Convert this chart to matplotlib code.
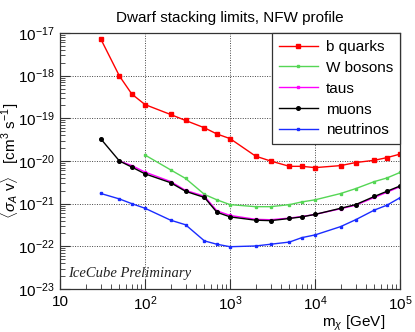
import matplotlib
matplotlib.use("Agg")
import matplotlib.pyplot as plt
from matplotlib.ticker import LogLocator, NullFormatter

plt.rcParams['font.family'] = ['Liberation Sans', 'DejaVu Sans']
plt.rcParams['mathtext.fontset'] = 'custom'
plt.rcParams['mathtext.rm'] = 'Liberation Sans'
plt.rcParams['mathtext.it'] = 'Liberation Sans:italic'

# masses [GeV]
masses = [30, 50, 70, 100, 200, 300, 500, 700, 1000, 2000, 3000, 5000, 7000,
          10000, 20000, 30000, 50000, 70000, 100000]

bquarks = [7.4e-18, 9.8e-19, 3.7e-19, 2.1e-19, 1.23e-19, 8.9e-20, 6.0e-20, 4.3e-20,
           3.35e-20, 1.3e-20, 1.0e-20, 7.5e-21, 7.5e-21, 7.0e-21, 7.8e-21, 9.2e-21,
           1.04e-20, 1.2e-20, 1.45e-20]

masses_w = masses[3:]
wbosons = [1.38e-20, 6.2e-21, 3.9e-21, 1.65e-21, 1.23e-21, 9.5e-22, 8.5e-22, 8.5e-22,
           9.5e-22, 1.1e-21, 1.23e-21, 1.73e-21, 2.25e-21, 3.3e-21, 4.0e-21, 5.4e-21]

masses_tau = masses[1:]
taus = [1.0e-20, 7.8e-21, 5.5e-21, 3.3e-21, 2.05e-21, 1.5e-21, 6.8e-22, 5.3e-22,
        4.3e-22, 4.2e-22, 4.6e-22, 5.0e-22, 5.6e-22, 7.6e-22, 9.2e-22, 1.4e-21,
        1.85e-21, 2.5e-21]

muons = [3.35e-20, 1.0e-20, 7.2e-21, 5.0e-21, 3.1e-21, 1.95e-21, 1.4e-21, 6.3e-22,
         4.9e-22, 4.1e-22, 4.0e-22, 4.5e-22, 4.9e-22, 5.6e-22, 7.8e-22, 9.5e-22,
         1.48e-21, 1.95e-21, 2.6e-21]

neutrinos = [1.74e-21, 1.29e-21, 1.0e-21, 7.8e-22, 4.1e-22, 3.2e-22, 1.34e-22, 1.12e-22,
             9.8e-23, 1.02e-22, 1.12e-22, 1.26e-22, 1.6e-22, 1.85e-22, 2.9e-22, 4.2e-22,
             7.1e-22, 9.2e-22, 1.38e-21]

fig = plt.figure(figsize=(4.15, 3.32), dpi=100)
ax = fig.add_axes([0.1446, 0.1295, 0.8194, 0.7711])

ax.plot(masses, bquarks, color='#ff0000', marker='s', ms=3.5, lw=1.0, label='b quarks')
ax.plot(masses_w, wbosons, color='#55d655', marker='s', ms=2, lw=1.0, label='W bosons')
ax.plot(masses_tau, taus, color='#ff00ff', marker='s', ms=2, lw=1.0, label='taus')
ax.plot(masses, muons, color='black', marker='o', ms=2.6, lw=1.0, label='muons')
ax.plot(masses, neutrinos, color='#1a2cff', marker='s', ms=2, lw=1.0, label='neutrinos')

ax.set_xscale('log')
ax.set_yscale('log')
ax.set_xlim(10, 1e5)
ax.set_ylim(1e-23, 1e-17)

ax.xaxis.set_minor_locator(LogLocator(base=10, subs=range(2, 10), numticks=20))
ax.yaxis.set_minor_locator(LogLocator(base=10, subs=range(2, 10), numticks=20))
ax.xaxis.set_minor_formatter(NullFormatter())
ax.yaxis.set_minor_formatter(NullFormatter())
ax.set_xticks([10, 1e2, 1e3, 1e4, 1e5])
ax.set_xticklabels(['10', r'$10^{2}$', r'$10^{3}$', r'$10^{4}$', r'$10^{5}$'])
ax.set_yticks([1e-23, 1e-22, 1e-21, 1e-20, 1e-19, 1e-18, 1e-17])
ax.set_yticklabels([r'$10^{-23}$', r'$10^{-22}$', r'$10^{-21}$', r'$10^{-20}$',
                    r'$10^{-19}$', r'$10^{-18}$', r'$10^{-17}$'])

ax.tick_params(which='both', direction='in', labelsize=11, color='#333333')
ax.tick_params(which='major', length=7, pad=4)
ax.tick_params(which='minor', length=3.5)
ax.grid(True, which='major', color='#444444', ls=(0, (1, 1.5)), lw=0.7)
for s in ax.spines.values():
    s.set_color('#333333')
    s.set_linewidth(0.9)

ax.set_title('Dwarf stacking limits, NFW profile', fontsize=11, pad=8)
ax.set_xlabel(r'm$_{\chi}$ [GeV]', fontsize=11, ha='right')
ax.xaxis.set_label_coords(0.955, -0.095)
ax.set_ylabel(r'$\langle\sigma_{A}\ \mathrm{v}\rangle$   [cm$^{3}$ s$^{-1}$]', fontsize=11)
ax.yaxis.set_label_coords(-0.115, 0.5)

ax.text(0.025, 0.045, 'IceCube Preliminary', transform=ax.transAxes,
        fontsize=10.5, family='Liberation Serif', style='italic', color='#222222')

leg = ax.legend(loc='upper right', fontsize=11, frameon=True, fancybox=False,
                borderaxespad=0, handlelength=2.6, labelspacing=0.45,
                borderpad=0.45, handletextpad=0.5)
leg.get_frame().set_edgecolor('#333333')
leg.get_frame().set_linewidth(0.9)
leg.get_frame().set_alpha(1)

fig.savefig('out.png', dpi=100)
